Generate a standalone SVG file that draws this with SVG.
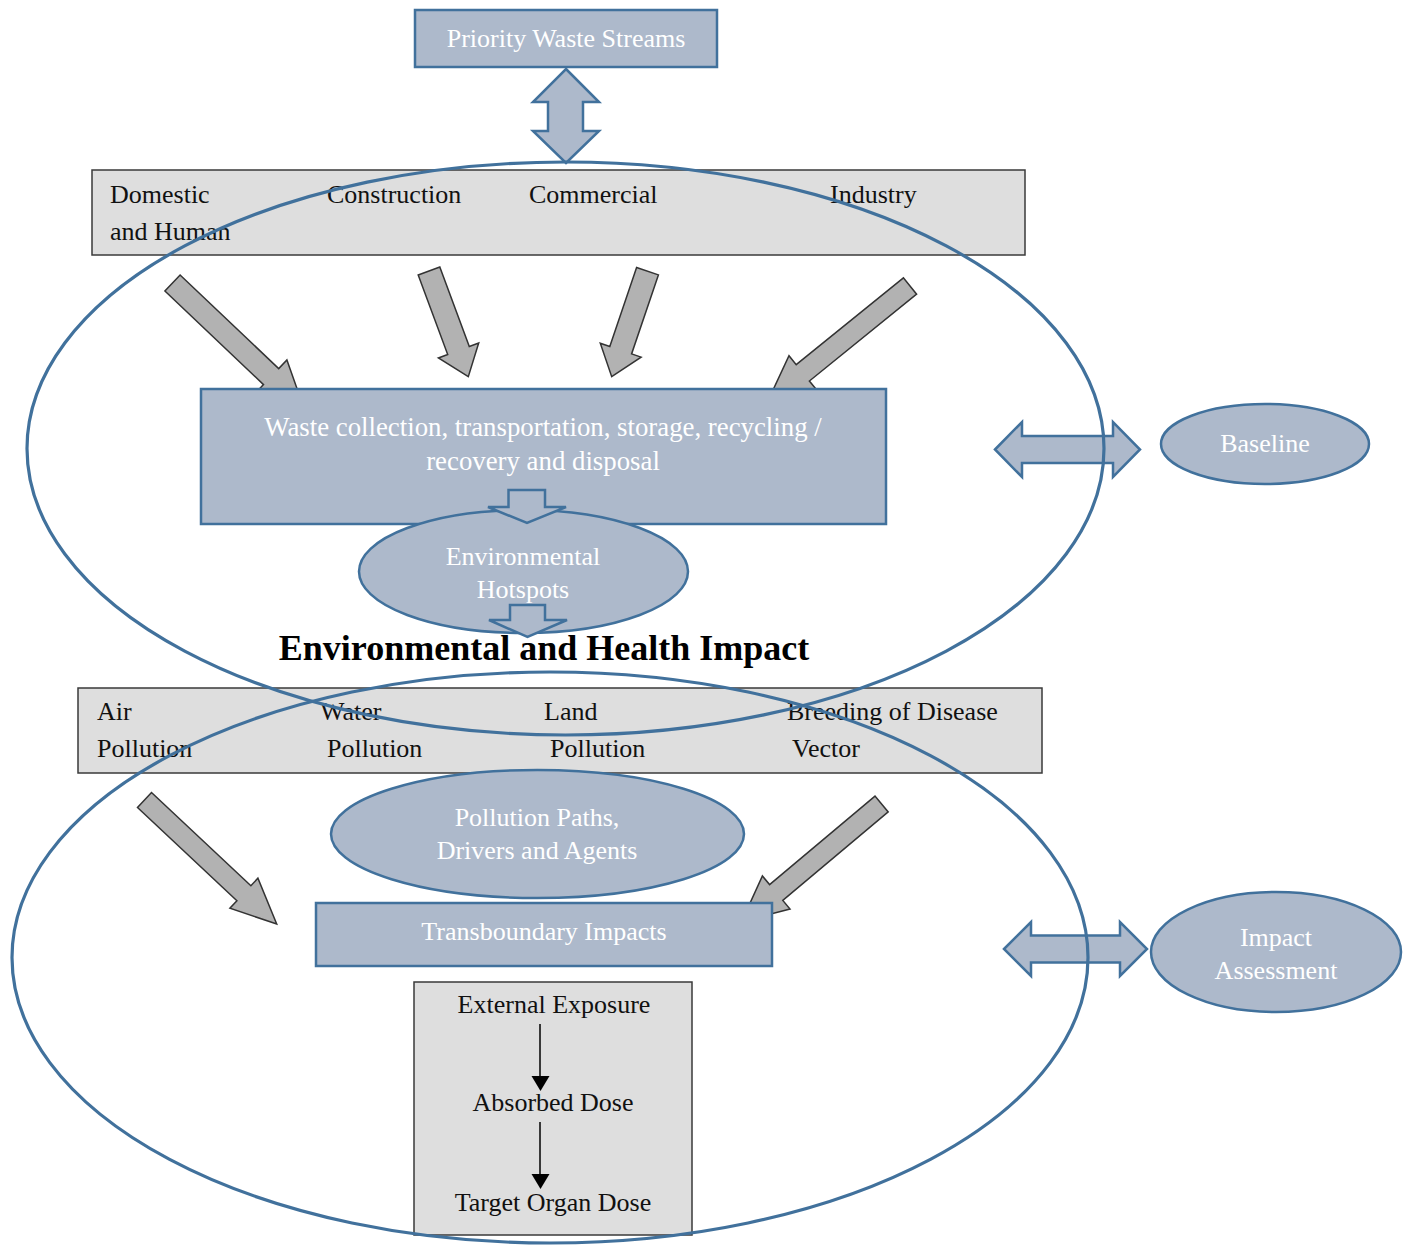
<svg xmlns="http://www.w3.org/2000/svg" width="1404" height="1245" viewBox="0 0 1404 1245">
<style>
.blue{fill:#adb9cb;stroke:#41719c;stroke-width:2.5}
.gray{fill:#dedede;stroke:#3a3a3a;stroke-width:1.5}
.garrow{fill:#b2b2b2;stroke:#333;stroke-width:1.5;stroke-linejoin:miter}
.big{fill:none;stroke:#41719c;stroke-width:3.2}
.wt{font-family:"Liberation Serif","Times New Roman",serif;font-size:26px;fill:#ffffff}
.bt{font-family:"Liberation Serif","Times New Roman",serif;font-size:26px;fill:#111}
.mid{text-anchor:middle}
.title{font-family:"Liberation Serif","Times New Roman",serif;font-size:36px;font-weight:bold;fill:#000;text-anchor:middle}
</style>
<rect width="1404" height="1245" fill="#ffffff"/>
<g id="connectors">
<polygon id="arrow-priority" class="blue" points="566,69 599,102 583,102 583,131 599,131 566,163 533,131 548,131 548,102 533,102"/>
<polygon id="arrow-domestic" class="garrow" points="164.9,291 263.5,384.6 255.3,393.3 303.7,407.6 286.9,359.9 278.7,368.6 180.1,275"/>
<polygon id="arrow-construction" class="garrow" points="418.2,275 447.7,354.5 438.4,358 468.3,376.7 478.7,343 469.3,346.5 439.8,267"/>
<polygon id="arrow-commercial" class="garrow" points="636.6,267.5 609.8,346.5 600.3,343.3 611.7,376.7 641.1,357.1 631.6,353.9 658.4,274.9"/>
<polygon id="arrow-industry" class="garrow" points="903.4,277.8 796.2,364.6 789,355.7 767.8,401.1 816.6,389.9 809.4,381 916.6,294.2"/>
<polygon id="arrow-air" class="garrow" points="137.5,807.5 236.9,900.7 229.9,908.2 276.7,924 257.9,878.2 250.9,885.7 151.5,792.5"/>
<polygon id="arrow-vector" class="garrow" points="875,796.1 769.6,884.6 762.4,876 741.7,921.4 790,909 782.8,900.4 888.2,811.9"/>
</g>
<g id="priority">
<rect class="blue" x="415" y="10" width="302" height="57"/>
<text class="wt mid" x="566" y="47">Priority Waste Streams</text>
</g>
<g id="sources">
<rect class="gray" x="92" y="170" width="933" height="85"/>
<text class="bt" x="110" y="203">Domestic</text>
<text class="bt" x="110" y="240">and Human</text>
<text class="bt" x="327" y="203">Construction</text>
<text class="bt" x="529" y="203">Commercial</text>
<text class="bt" x="830" y="203">Industry</text>
</g>
<g id="waste-management">
<rect class="blue" x="201" y="389" width="685" height="135"/>
<text class="wt mid" x="543" y="436" style="font-size:26.8px">Waste collection, transportation, storage, recycling /</text>
<text class="wt mid" x="543" y="470" style="font-size:26.8px">recovery and disposal</text>
</g>
<g id="hotspots">
<ellipse class="blue" cx="523.5" cy="571.5" rx="164.5" ry="61.5"/>
<text class="wt mid" x="523" y="565">Environmental</text>
<text class="wt mid" x="523" y="598">Hotspots</text>
</g>
<g id="arrow-to-hotspots">
<polygon class="blue" points="508.5,490 545,490 545,507 566,507 527,523 488,507 508.5,507"/>
</g>
<g id="arrow-to-impact">
<polygon class="blue" points="510,605 545,605 545,620 567,620 527.5,637 489,620 510,620"/>
</g>
<g id="impact-title">
<text class="title" x="544" y="660">Environmental and Health Impact</text>
</g>
<g id="effects">
<rect class="gray" x="78" y="688" width="964" height="85"/>
<text class="bt" x="97" y="720">Air</text>
<text class="bt" x="97" y="757">Pollution</text>
<text class="bt" x="320" y="720">Water</text>
<text class="bt" x="327" y="757">Pollution</text>
<text class="bt" x="544" y="720">Land</text>
<text class="bt" x="550" y="757">Pollution</text>
<text class="bt" x="787" y="720">Breeding of Disease</text>
<text class="bt" x="792" y="757">Vector</text>
</g>
<g id="pollution-paths">
<ellipse class="blue" cx="537.5" cy="834" rx="206.5" ry="64"/>
<text class="wt mid" x="537" y="826">Pollution Paths,</text>
<text class="wt mid" x="537" y="859">Drivers and Agents</text>
</g>
<g id="transboundary">
<rect class="blue" x="316" y="903" width="456" height="63"/>
<text class="wt mid" x="544" y="940">Transboundary Impacts</text>
</g>
<g id="exposure">
<rect class="gray" x="414" y="982" width="278" height="253"/>
<text class="bt mid" x="554" y="1013">External Exposure</text>
<text class="bt mid" x="553" y="1111">Absorbed Dose</text>
<text class="bt mid" x="553" y="1211">Target Organ Dose</text>
<line x1="540" y1="1024" x2="540" y2="1077" stroke="#000" stroke-width="1.5"/>
<polygon points="531.5,1076 549.5,1076 540.5,1091" fill="#000"/>
<line x1="540" y1="1122" x2="540" y2="1175" stroke="#000" stroke-width="1.5"/>
<polygon points="531.5,1174 549.5,1174 540.5,1189" fill="#000"/>
</g>
<g id="baseline">
<ellipse class="blue" cx="1265" cy="444" rx="104" ry="40"/>
<text class="wt mid" x="1265" y="452">Baseline</text>
</g>
<g id="impact-assessment">
<ellipse class="blue" cx="1276" cy="952" rx="125" ry="60"/>
<text class="wt mid" x="1276" y="946">Impact</text>
<text class="wt mid" x="1276" y="979">Assessment</text>
</g>
<g id="arrows-side">
<polygon id="arrow-baseline" class="blue" points="995,449.5 1022,422 1022,436 1113,436 1113,422 1140,449.5 1113,477 1113,463 1022,463 1022,477"/>
<polygon id="arrow-assessment" class="blue" points="1004,949 1031,922 1031,935.5 1120,935.5 1120,922 1147,949 1120,976 1120,962.5 1031,962.5 1031,976"/>
</g>
<g id="scope-ellipses">
<ellipse id="baseline-scope" class="big" cx="565.5" cy="448.5" rx="538.5" ry="286.5"/>
<ellipse id="impact-scope" class="big" cx="550" cy="957.5" rx="538" ry="285.5"/>
</g>
</svg>
